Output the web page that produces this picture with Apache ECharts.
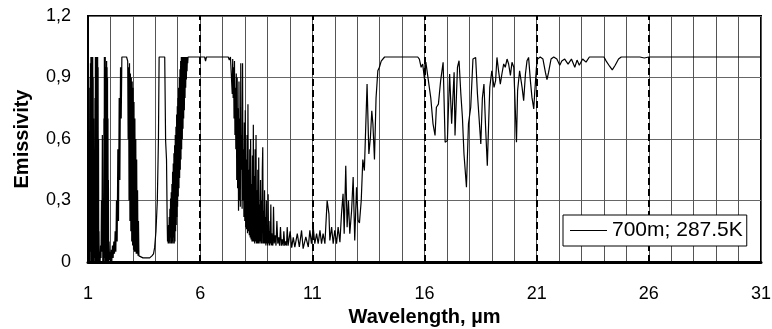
<!DOCTYPE html>
<html>
<head>
<meta charset="utf-8">
<script src="https://cdn.jsdelivr.net/npm/echarts@6/dist/echarts.min.js"></script>
<style>
html,body{margin:0;padding:0;background:#fff;}
#main{width:772px;height:329px;}
</style>
</head>
<body>
<div id="main"></div>
<script>
// wavelength (um) / emissivity
var wl = [
  1.00,1.01,1.02,1.03,1.04,1.05,1.06,1.07,1.08,1.09,1.10,1.11,1.12,1.13,1.14,1.15,1.16,1.17,1.18,1.19,
  1.20,1.21,1.22,1.23,1.24,1.25,1.26,1.27,1.28,1.29,1.30,1.31,1.32,1.33,1.34,1.35,1.36,1.37,1.38,1.39,
  1.40,1.41,1.42,1.43,1.44,1.45,1.46,1.47,1.48,1.49,1.50,1.52,1.54,1.56,1.58,1.60,1.62,1.64,1.66,1.68,
  1.70,1.71,1.72,1.73,1.74,1.75,1.76,1.77,1.78,1.79,1.80,1.81,1.82,1.83,1.84,1.85,1.86,1.87,1.88,1.89,
  1.90,1.91,1.92,1.94,1.96,1.98,2.00,2.03,2.06,2.09,2.12,2.15,2.18,2.21,2.24,2.27,2.30,2.33,2.36,2.39,
  2.42,2.45,2.48,2.51,2.55,2.60,2.66,2.72,2.77,2.79,2.81,2.83,2.85,2.87,2.89,2.91,2.93,2.95,2.97,2.99,
  3.01,3.03,3.05,3.07,3.09,3.11,3.13,3.15,3.17,3.19,3.21,3.23,3.25,3.27,3.30,3.45,3.60,3.75,3.85,3.92,
  3.97,4.03,4.09,4.14,4.17,4.30,4.42,4.46,4.50,4.53,
  4.545,4.56,4.575,4.59,4.605,4.62,4.635,4.65,4.665,4.68,4.695,4.71,4.725,4.74,4.755,4.77,4.785,4.80,4.815,4.83,
  4.845,4.86,4.875,4.89,4.905,4.92,4.935,4.95,4.965,4.98,4.995,5.01,5.025,5.04,5.055,5.07,5.085,5.10,5.115,5.13,
  5.145,5.16,5.175,5.19,5.205,5.22,5.235,5.25,5.265,5.28,5.295,5.31,5.325,5.34,5.355,5.37,5.385,5.40,5.415,5.43,
  5.445,5.46,5.50,
  6.20,6.24,6.28,7.25,7.30,7.35,
  7.41,7.43,7.45,7.47,7.49,7.51,7.53,7.55,7.57,7.59,7.61,7.63,7.65,7.67,7.69,7.71,7.73,7.75,7.77,7.79,
  7.81,7.83,7.85,7.87,7.89,7.91,7.93,7.95,7.97,7.99,8.01,8.03,8.05,8.07,8.09,8.11,8.13,8.15,8.17,8.19,
  8.21,8.23,8.25,8.27,8.29,8.31,8.33,8.35,8.37,8.39,8.41,8.43,8.45,8.47,8.49,8.51,8.53,8.55,8.57,8.59,
  8.61,8.63,8.65,8.67,8.69,8.71,8.73,8.75,8.77,8.79,8.81,8.83,8.85,8.87,8.89,8.91,8.93,8.95,8.97,8.99,
  9.01,9.03,9.05,9.07,9.09,9.11,9.13,9.15,9.17,9.19,9.21,
  9.24,9.27,9.30,9.34,9.38,9.42,9.46,9.50,9.54,9.58,9.62,9.66,9.70,9.73,9.77,9.81,9.85,9.88,9.92,
  9.96,10.01,10.08,
  10.15,10.22,10.33,10.42,10.52,10.59,10.71,10.82,10.89,10.96,11.04,11.11,11.19,11.26,11.34,11.41,11.48,11.56,11.66,11.74,
  11.78,11.86,11.93,12.00,12.08,12.15,12.23,12.30,12.37,12.42,12.49,12.55,12.61,12.67,12.75,12.82,12.89,12.97,13.04,13.10,
  13.18,13.25,13.32,13.44,13.52,13.59,13.65,13.70,13.77,13.84,13.92,13.99,14.07,14.22,15.70,15.77,15.85,15.92,16.00,16.06,
  16.12,16.28,16.38,16.47,16.53,16.62,16.72,16.83,16.92,17.02,17.12,17.21,17.32,17.36,17.47,17.54,17.62,17.69,17.76,17.87,
  17.96,18.06,18.16,18.28,18.36,18.43,18.51,18.58,18.65,18.73,18.80,18.91,19.00,19.10,19.17,19.23,19.31,19.38,19.45,19.53,
  19.60,19.68,19.75,19.83,19.90,19.98,20.05,20.10,20.15,20.24,20.35,20.42,20.50,20.57,20.64,20.72,20.79,20.87,20.91,20.99,
  21.04,21.16,21.28,21.39,21.46,21.53,21.64,21.76,21.90,22.03,22.12,22.25,22.40,22.55,22.70,22.80,22.90,23.05,23.20,23.35,
  24.00,24.10,24.25,24.37,24.50,24.65,24.77,25.60,25.80,26.00,31.00
];
var em = [
  0.97,0.80,0.30,0.90,0.05,0.60,0.00,0.30,0.00,0.85,0.10,0.97,0.05,1.00,0.00,0.98,0.02,1.00,0.00,0.95,
  0.05,1.00,0.00,0.90,0.02,0.70,0.00,0.20,0.00,0.30,0.02,0.80,0.05,1.00,0.00,0.98,0.02,1.00,0.00,1.00,
  0.05,0.97,0.00,1.00,0.10,0.95,0.00,0.60,0.00,0.15,0.00,0.05,0.00,0.08,0.02,0.30,0.05,0.62,0.00,0.20,
  0.00,0.70,0.05,1.00,0.02,0.98,0.00,1.00,0.05,0.95,0.00,0.62,0.02,0.98,0.00,0.95,0.05,0.90,0.00,0.70,
  0.02,0.40,0.00,0.10,0.01,0.05,0.00,0.06,0.00,0.08,0.02,0.10,0.04,0.15,0.05,0.30,0.10,0.55,0.20,0.80,
  0.40,0.95,0.70,1.00,1.00,1.00,1.00,1.00,0.98,0.60,0.95,0.30,0.97,0.20,0.92,0.15,0.90,0.10,0.88,0.08,
  0.85,0.06,0.78,0.05,0.70,0.05,0.60,0.04,0.50,0.04,0.35,0.03,0.20,0.03,0.03,0.02,0.02,0.02,0.03,0.04,
  0.07,0.15,0.30,0.60,1.00,1.00,1.00,0.59,0.50,0.20,
  0.10,0.14,0.09,0.18,0.09,0.22,0.10,0.26,0.09,0.31,0.12,0.34,0.09,0.38,0.10,0.44,0.09,0.48,0.12,0.53,
  0.09,0.57,0.10,0.62,0.15,0.66,0.18,0.72,0.22,0.76,0.27,0.80,0.32,0.85,0.36,0.90,0.41,0.94,0.45,0.98,
  0.50,1.00,0.55,1.00,0.60,1.00,0.65,1.00,0.70,1.00,0.74,1.00,0.80,1.00,0.85,1.00,0.89,1.00,0.93,1.00,
  0.97,1.00,1.00,
  1.00,0.98,1.00,1.00,0.985,1.00,
  1.00,0.82,0.99,0.80,0.95,0.70,0.98,0.62,0.85,0.55,0.92,0.40,0.90,0.36,0.75,0.25,0.88,0.30,0.70,0.27,
  0.97,0.45,0.62,0.26,0.97,0.30,0.55,0.22,0.68,0.20,0.74,0.17,0.50,0.16,0.62,0.14,0.77,0.15,0.45,0.13,
  0.55,0.12,0.60,0.11,0.38,0.10,0.52,0.10,0.67,0.10,0.42,0.09,0.55,0.10,0.62,0.09,0.35,0.09,0.45,0.09,
  0.51,0.09,0.28,0.10,0.40,0.09,0.30,0.09,0.45,0.56,0.09,0.25,0.09,0.35,0.09,0.22,0.08,0.30,0.09,0.18,
  0.08,0.33,0.09,0.20,0.08,0.15,0.09,0.28,0.08,0.14,0.09,
  0.08,0.27,0.09,0.13,0.08,0.20,0.09,0.12,0.08,0.17,0.08,0.11,0.08,0.15,0.08,0.10,0.08,0.17,0.08,
  0.11,0.15,0.07,
  0.12,0.073,0.138,0.073,0.154,0.065,0.122,0.073,0.154,0.089,0.17,0.089,0.138,0.089,0.154,0.089,0.138,0.089,0.30,0.235,
  0.105,0.17,0.089,0.154,0.089,0.17,0.097,0.235,0.333,0.138,0.47,0.17,0.30,0.138,0.25,0.414,0.105,0.365,0.203,0.19,
  0.30,0.50,0.446,0.868,0.527,0.609,0.738,0.674,0.50,0.80,0.933,0.95,0.98,1.00,1.00,0.99,0.95,0.966,0.89,0.975,
  0.98,0.80,0.674,0.617,0.755,0.77,0.885,0.974,0.584,0.592,0.917,0.674,0.925,0.617,0.95,0.982,0.82,0.706,0.527,0.365,
  0.674,0.755,0.99,0.998,0.82,0.706,0.576,0.80,0.868,0.64,0.47,0.852,0.933,0.852,0.885,0.998,0.925,0.868,0.917,0.966,
  0.95,0.99,0.966,0.91,0.974,0.95,0.738,0.584,0.836,0.933,0.852,0.787,0.917,0.982,0.998,0.885,0.803,0.747,0.82,0.95,
  0.99,1.00,0.99,0.925,0.89,0.925,0.99,1.00,0.99,0.96,0.98,0.99,0.965,0.99,0.95,0.985,0.96,0.99,0.975,1.00,
  1.00,0.98,0.955,0.937,0.96,0.99,1.00,1.00,0.995,1.00,1.00
];
var dashX = [6, 11, 16, 21, 26];      // dashed marker lines
var xTicks = [1, 6, 11, 16, 21, 26, 31]; // labelled x ticks
var seriesName = '700m; 287.5K';

var pts = [];
for (var i = 0; i < wl.length; i++) {
  pts.push([wl[i], em[i]]);
}

var myChart = echarts.init(document.getElementById('main'));
var option = {
  animation: false,
  textStyle: { fontFamily: 'Liberation Sans, Arial, sans-serif', color: '#000' },
  grid: {
    left: 88, right: 11, top: 16, bottom: 67,
    outerBoundsMode: 'none',
    show: true, borderColor: '#000', borderWidth: 2
  },
  legend: {
    data: [seriesName],
    left: 563, top: 215,
    z: 20,
    padding: [5, 4, 5, 7],
    icon: 'rect',
    itemWidth: 37, itemHeight: 1, itemGap: 0,
    backgroundColor: '#fff',
    borderColor: '#000', borderWidth: 1,
    borderRadius: 0,
    textStyle: { fontSize: 21, color: '#000', fontFamily: 'Liberation Sans, Arial, sans-serif', lineHeight: 21 }
  },
  xAxis: {
    type: 'value',
    min: 1, max: 31, interval: 1,
    name: 'Wavelength, \u00b5m',
    nameLocation: 'middle',
    nameGap: 42,
    nameTextStyle: { fontSize: 20, fontWeight: 'bold', color: '#000' },
    axisLine: { lineStyle: { color: '#000', width: 3 } },
    axisTick: { show: false },
    axisLabel: {
      fontSize: 18, color: '#000', margin: 23,
      formatter: function (v) { return xTicks.indexOf(v) >= 0 ? String(v) : ''; }
    },
    splitLine: { show: true, lineStyle: { color: '#555', width: 1 } }
  },
  yAxis: {
    type: 'value',
    min: 0, max: 1.2, interval: 0.3,
    name: 'Emissivity',
    nameLocation: 'middle',
    nameGap: 56,
    nameTextStyle: { fontSize: 20, fontWeight: 'bold', color: '#000' },
    axisLine: { show: true, lineStyle: { color: '#000', width: 2 } },
    axisTick: { show: false },
    axisLabel: {
      fontSize: 18, color: '#000', margin: 17,
      formatter: function (v) { return String(+v.toFixed(1)).replace('.', ','); }
    },
    splitLine: { show: true, lineStyle: { color: '#666', width: 1 } }
  },
  series: [
    {
      name: seriesName,
      type: 'line',
      data: pts,
      symbol: 'none',
      z: 2,
      lineStyle: { color: '#000', width: 1.2 },
      itemStyle: { color: '#000' },
      markLine: {
        silent: true,
        z: 3,
        symbol: ['none', 'none'],
        label: { show: false },
        lineStyle: { color: '#000', width: 2, type: [7, 4] },
        data: dashX.map(function (v) { return { xAxis: v }; })
      }
    }
  ]
};
myChart.setOption(option);
</script>
</body>
</html>
